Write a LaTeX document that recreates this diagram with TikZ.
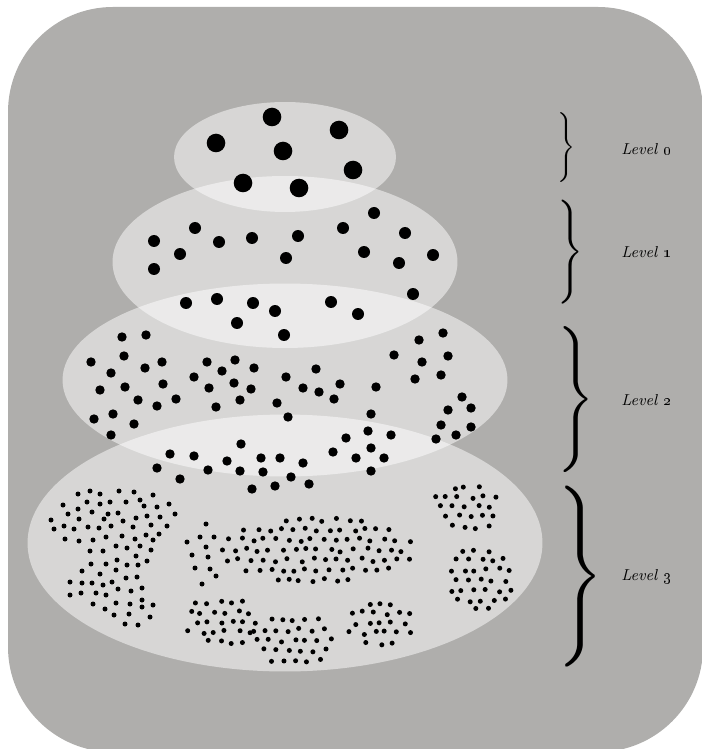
\documentclass[tikz,border=0pt]{standalone}
\usetikzlibrary{positioning}
\definecolor{platebg}{RGB}{175,174,172}
% jittered patch of fine dots: centre x, centre y, x radius, y radius
\newcommand{\dotpatch}[4]{%
  \foreach \gx in {-10,...,10}{
    \foreach \gy in {-7,...,7}{
      \pgfmathsetmacro{\dx}{\gx*12 + 6*mod(\gy,2) + 2.5*rand}
      \pgfmathsetmacro{\dy}{\gy*10 + 2*rand}
      \pgfmathtruncatemacro{\inside}{((\dx/#3)^2 + (\dy/#4)^2 < 1)}
      \ifnum\inside=1 \fill (#1+\dx,#2+\dy) circle [radius=0.05cm];\fi
    }}}
\begin{document}
\begin{tikzpicture}[x=0.02cm,y=-0.02cm,
    layer/.style={fill=white, fill opacity=0.5},
    levelbrace/.style={inner sep=0pt, anchor=west},
    levellabel/.style={font=\small\itshape, anchor=west, inner sep=0pt}
]
\useasboundingbox (0,0) rectangle (701,749);
\fill[platebg, rounded corners=2.1cm] (8,7) rectangle (703,752);
% the four levels, coarse on top
\fill[layer] (285,157) ellipse [x radius=2.22cm, y radius=1.1cm];
\fill[layer] (285,262) ellipse [x radius=3.45cm, y radius=1.72cm];
\fill[layer] (285,380) ellipse [x radius=4.45cm, y radius=1.93cm];
\fill[layer] (285,543) ellipse [x radius=5.15cm, y radius=2.57cm];
% level 0
\foreach \x/\y in {272/117, 339/130, 216/143, 283/151, 353/170, 243/183, 299/188}
    \fill (\x,\y) circle [radius=0.186cm];
% level 1
\foreach \x/\y in {154/241, 195/228, 180/254, 154/269, 219/242, 252/238, 298/236, 286/258,
    343/228, 374/213, 405/233, 364/252, 399/263, 433/255, 413/294, 186/303, 217/299,
    253/303, 275/311, 237/323, 331/302, 358/314, 284/335}
    \fill (\x,\y) circle [radius=0.12cm];
% level 2
\foreach \x/\y in {122/337, 146/335, 91/362, 124/356, 111/373, 145/368, 162/362, 100/390,
    125/387, 163/384, 138/400, 157/406, 176/399, 94/419, 113/414, 134/424, 111/435,
    207/362, 235/360, 222/371, 254/368, 194/377, 209/388, 234/383, 251/389, 216/407, 240/400,
    286/377, 316/369, 303/388, 319/392, 340/384, 334/399, 277/403, 288/417, 376/387, 371/414,
    394/355, 419/340, 443/333, 422/362, 448/356, 415/379, 441/375,
    462/397, 448/410, 471/408, 441/425, 471/427, 436/439, 456/435,
    241/444, 170/454, 194/456, 157/468, 180/479, 208/470, 227/461, 240/471, 261/458, 280/458,
    263/472, 303/463, 252/489, 275/486, 291/477, 309/484,
    346/438, 368/431, 391/435, 333/452, 371/448, 356/458, 384/458, 371/471}
    \fill (\x,\y) circle [radius=0.094cm];
% level 3
\foreach \x/\y in {78/494, 90/491, 100/494, 119/491, 134/492, 153/495, 63/505, 87/502,
    100/504, 110/502, 126/502, 140/500, 144/506, 157/507, 169/504, 68/514, 78/509, 92/512,
    108/514, 118/513, 136/518, 147/516, 160/517, 175/514, 51/520, 79/519, 104/519, 123/521,
    64/526, 54/529, 74/529, 88/527, 99/528, 111/526, 133/527, 151/525, 167/526, 65/539,
    79/541, 93/540, 106/537, 122/536, 135/539, 146/535, 153/540, 159/534, 116/546, 127/548,
    140/546, 90/551, 103/551, 151/550, 136/556, 117/560, 147/561, 91/564, 106/564, 127/565,
    138/565, 82/571, 100/574, 116/570, 126/578, 137/577, 70/582, 82/583, 92/583, 103/585,
    112/582, 118/589, 131/591, 142/588, 70/595, 81/593, 96/593, 106/595, 142/600, 93/604,
    105/609, 116/603, 130/604, 142/607, 153/605, 114/615, 129/614, 150/617, 125/624, 138/625,
    206/524, 187/542, 200/537, 214/537, 206/547, 192/555, 208/557, 195/568, 210/569, 216/576,
    202/584}
    \fill (\x,\y) circle [radius=0.05cm];
\pgfmathsetseed{11}
\dotpatch{318}{550}{97}{33}
\dotpatch{465}{507}{34}{27}
\dotpatch{481}{580}{32}{35}
\dotpatch{220}{622}{36}{27}
\dotpatch{294}{640}{44}{26}
\dotpatch{380}{623}{34}{28}
% braces and labels
\node[levelbrace] (br0) at (557,148) {\resizebox*{10.2pt}{39.8pt}{$\Bigg\}$}};
\node[levelbrace] (br1) at (557,252) {\resizebox*{14.8pt}{59.2pt}{$\Bigg\}$}};
\node[levelbrace] (br2) at (557,400) {\resizebox*{21.1pt}{83.1pt}{$\Bigg\}$}};
\node[levelbrace] (br3) at (557,577) {\resizebox*{26.2pt}{103pt}{$\Bigg\}$}};
\node[levellabel] (lab0) at (621,149) {Level \oldstylenums{0}};
\node[levellabel] (lab1) at (621,252) {Level \oldstylenums{1}};
\node[levellabel] (lab2) at (621,400) {Level \oldstylenums{2}};
\node[levellabel] (lab3) at (621,577) {Level \oldstylenums{3}};
\end{tikzpicture}
\end{document}
